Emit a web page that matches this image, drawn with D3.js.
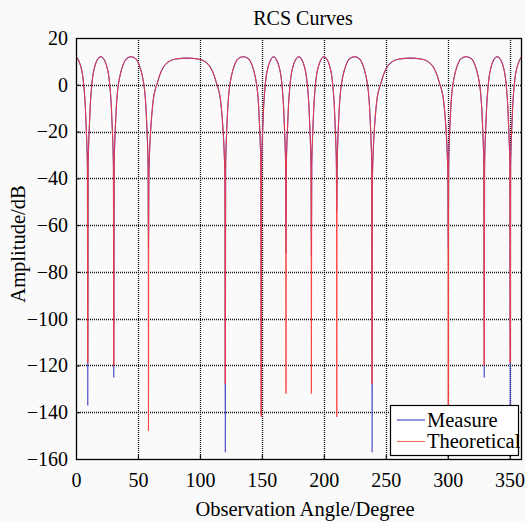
<!DOCTYPE html>
<html>
<head>
<meta charset="utf-8">
<script src="https://cdn.jsdelivr.net/npm/d3@7"></script>
<style>
  html, body { margin: 0; padding: 0; background: #fafafa; }
  svg { display: block; }
  text { font-family: "Liberation Serif", "Times New Roman", serif; fill: #000; }
</style>
</head>
<body>
<script>
// ---------- data ----------
const title = "RCS Curves";
const xLabel = "Observation Angle/Degree";
const yLabel = "Amplitude/dB";
const seriesNames = ["Measure", "Theoretical"];
const xTicks = [0, 50, 100, 150, 200, 250, 300, 350];
const yTicks = [-160, -140, -120, -100, -80, -60, -40, -20, 0, 20];

const angles = [
  0,2,4,5.5,6.5,7.5,8.3,8.8,9.2,9.5,
  9.8,10.2,10.7,11.5,12.5,13.5,15,17,20,23,25,26.5,27.5,28.5,29.3,29.8,30.2,30.5,
  30.8,31.2,31.7,32.5,33.5,34.5,36,38,40.5,44.5,48.5,51,53,54.5,55.5,56.5,57.3,57.8,58.2,58.5,
  58.8,59.3,60,61,62.5,64,65.5,67.5,70.5,74.5,80.5,89.5,98.5,104.5,108.5,111.5,113.5,115,116.5,118,119,119.7,120.2,120.5,
  120.8,121.2,121.7,122.5,123.5,124.5,126,128,130.5,135,139.5,142,144,145.5,146.5,147.5,148.3,148.8,149.2,149.5,
  149.8,150.2,150.7,151.5,152.5,153.5,155,157,159.5,162,164,165.5,166.5,167.5,168.3,168.8,169.2,169.5,
  169.8,170.2,170.7,171.5,172.5,173.5,175,177,180,182.5,184.5,186,187,188,188.8,189.3,189.7,190,
  190.3,190.7,191.2,192,193,194,195.5,197.5,200,203,205,206.5,207.5,208.5,209.3,209.8,210.2,210.5,
  210.8,211.2,211.7,212.5,213.5,214.5,216,218,220.5,225,229,231.5,233.5,235,236,237,237.8,238.3,238.7,239,
  239.3,239.8,240.5,241.5,243,244.5,246,248,251,255,261,270,278.5,284.5,288.5,291.5,293.5,295,296.5,298,299,299.7,300.2,300.5,
  300.8,301.2,301.7,302.5,303.5,304.5,306,308,310.5,315,319.5,322,324,325.5,326.5,327.5,328.3,328.8,329.2,329.5,
  329.8,330.2,330.7,331.5,332.5,333.5,335,337,340,343,345,346.5,347.5,348.5,349.3,349.8,350.2,350.5,
  350.8,351.2,351.7,352.5,353.5,354.5,356,358,360
];

const theoretical = [
  12,10.5,7.5,3.5,-1.5,-9,-19,-26,-35,-119,
  -35,-26,-19,-9,-1.5,3.5,7.5,10.5,12,10.5,7.5,3.5,-1.5,-9,-19,-26,-35,-120,
  -35,-26,-19,-10,-3,1,5,8.5,11,12,11,8.5,5,1,-3,-10,-19,-26,-35,-148,
  -40,-30,-22,-14,-6,-2,0.5,4,7.5,9.8,11,11.4,11,9.8,7.5,4,0.5,-2,-6,-14,-22,-30,-40,-128,
  -35,-26,-19,-10,-3,1,5,8.5,11,12,11,8.5,5,1,-3,-10,-19,-26,-35,-142,
  -35,-26,-19,-9,-1.5,3.5,7.5,10.5,12,10.5,7.5,3.5,-1.5,-9,-19,-26,-35,-132,
  -35,-26,-19,-9,-1.5,3.5,7.5,10.5,12,10.5,7.5,3.5,-1.5,-9,-19,-26,-35,-132,
  -35,-26,-19,-9,-1.5,3.5,7.5,10.5,12,10.5,7.5,3.5,-1.5,-9,-19,-26,-35,-142,
  -35,-26,-19,-10,-3,1,5,8.5,11,12,11,8.5,5,1,-3,-10,-19,-26,-35,-128,
  -40,-30,-22,-14,-6,-2,0.5,4,7.5,9.8,11,11.4,11,9.8,7.5,4,0.5,-2,-6,-14,-22,-30,-40,-148,
  -35,-26,-19,-10,-3,1,5,8.5,11,12,11,8.5,5,1,-3,-10,-19,-26,-35,-120,
  -35,-26,-19,-9,-1.5,3.5,7.5,10.5,12,10.5,7.5,3.5,-1.5,-9,-19,-26,-35,-119,
  -35,-26,-19,-9,-1.5,3.5,7.5,10.5,12
];

const measured = [
  12,10.5,7.5,3.5,-1.5,-9,-19,-26,-35,-137,
  -35,-26,-19,-9,-1.5,3.5,7.5,10.5,12,10.5,7.5,3.5,-1.5,-9,-19,-26,-35,-125,
  -35,-26,-19,-10,-3,1,5,8.5,11,12,11,8.5,5,1,-3,-10,-19,-26,-35,-70,
  -40,-30,-22,-14,-6,-2,0.5,4,7.5,9.8,11,11.4,11,9.8,7.5,4,0.5,-2,-6,-14,-22,-30,-40,-157,
  -35,-26,-19,-10,-3,1,5,8.5,11,12,11,8.5,5,1,-3,-10,-19,-26,-35,-141,
  -35,-26,-19,-9,-1.5,3.5,7.5,10.5,12,10.5,7.5,3.5,-1.5,-9,-19,-26,-35,-72,
  -35,-26,-19,-9,-1.5,3.5,7.5,10.5,12,10.5,7.5,3.5,-1.5,-9,-19,-26,-35,-73,
  -35,-26,-19,-9,-1.5,3.5,7.5,10.5,12,10.5,7.5,3.5,-1.5,-9,-19,-26,-35,-54,
  -35,-26,-19,-10,-3,1,5,8.5,11,12,11,8.5,5,1,-3,-10,-19,-26,-35,-157,
  -40,-30,-22,-14,-6,-2,0.5,4,7.5,9.8,11,11.4,11,9.8,7.5,4,0.5,-2,-6,-14,-22,-30,-40,-70,
  -35,-26,-19,-10,-3,1,5,8.5,11,12,11,8.5,5,1,-3,-10,-19,-26,-35,-125,
  -35,-26,-19,-9,-1.5,3.5,7.5,10.5,12,10.5,7.5,3.5,-1.5,-9,-19,-26,-35,-137,
  -35,-26,-19,-9,-1.5,3.5,7.5,10.5,12
];

// ---------- layout ----------
const W = 525, H = 522;
const m = { left: 76, right: 3, top: 38, bottom: 63 };
const iw = W - m.left - m.right, ih = H - m.top - m.bottom;

const svg = d3.select("body").append("svg").attr("width", W).attr("height", H);
svg.append("rect").attr("width", W).attr("height", H).attr("fill", "#fafafa");

const x = d3.scaleLinear().domain([0, 360]).range([m.left, m.left + iw]);
const y = d3.scaleLinear().domain([-160, 20]).range([m.top + ih, m.top]);

// grid
const grid = svg.append("g");
grid.selectAll("line.v").data(xTicks.filter(t => t > 0)).join("line")
  .attr("x1", d => Math.round(x(d)) + 0.5).attr("x2", d => Math.round(x(d)) + 0.5)
  .attr("y1", m.top).attr("y2", m.top + ih)
  .attr("stroke", "#111").attr("stroke-width", 1.3).attr("stroke-dasharray", "1,1");
grid.selectAll("line.h").data(yTicks.filter(t => t > -160 && t < 20)).join("line")
  .attr("y1", d => Math.round(y(d)) + 0.5).attr("y2", d => Math.round(y(d)) + 0.5)
  .attr("x1", m.left).attr("x2", m.left + iw)
  .attr("stroke", "#111").attr("stroke-width", 1.3).attr("stroke-dasharray", "1,1");

// clip
svg.append("clipPath").attr("id", "clip").append("rect")
  .attr("x", m.left).attr("y", m.top).attr("width", iw).attr("height", ih);

const line = d3.line().x(d => x(d[0])).y(d => y(d[1])).curve(d3.curveMonotoneX);
const plot = svg.append("g").attr("clip-path", "url(#clip)");
plot.append("path").datum(angles.map((a, i) => [a, measured[i]]))
  .attr("d", line).attr("fill", "none").attr("stroke", "#3b3bc4").attr("stroke-width", 1.1);
plot.append("path").datum(angles.map((a, i) => [a, theoretical[i]]))
  .attr("d", line).attr("fill", "none").attr("stroke", "#ff3a3a").attr("stroke-width", 1).attr("opacity", 0.9);

// axes
const xAxis = d3.axisBottom(x).tickValues(xTicks).tickSize(-4).tickPadding(10).tickFormat(d3.format("d"));
const yAxis = d3.axisLeft(y).tickValues(yTicks).tickSize(-4).tickPadding(8).tickFormat(d3.format("d"));
const gx = svg.append("g").attr("transform", `translate(0,${m.top + ih})`).call(xAxis);
const gy = svg.append("g").attr("transform", `translate(${m.left},0)`).call(yAxis);
[gx, gy].forEach(g => {
  g.select(".domain").remove();
  g.selectAll(".tick line").attr("stroke", "#000");
  g.selectAll(".tick text").attr("font-size", 20).attr("font-family", "Liberation Serif, serif").attr("fill", "#000");
});
gx.selectAll(".tick text").attr("dy", "0.92em");

// frame
svg.append("rect").attr("x", m.left + 0.5).attr("y", m.top + 0.5).attr("width", iw - 1).attr("height", ih)
  .attr("fill", "none").attr("stroke", "#000").attr("stroke-width", 1.3);

// title & labels
svg.append("text").attr("x", 303).attr("y", 25).attr("text-anchor", "middle").attr("font-size", 20).text(title);
svg.append("text").attr("x", 305).attr("y", 516).attr("text-anchor", "middle").attr("font-size", 20.5).text(xLabel);
svg.append("text").attr("transform", "translate(25,244) rotate(-90)").attr("text-anchor", "middle").attr("font-size", 20.5).text(yLabel);

// legend
const lg = svg.append("g");
lg.append("rect").attr("x", 390.5).attr("y", 405.5).attr("width", 128).attr("height", 50)
  .attr("fill", "#fff").attr("stroke", "#000").attr("stroke-width", 1.2);
const legendColors = ["#3b3bc4", "#ff6a6a"];
seriesNames.forEach((n, i) => {
  const ly = 420 + i * 21.5;
  lg.append("line").attr("x1", 397).attr("x2", 425).attr("y1", ly).attr("y2", ly)
    .attr("stroke", legendColors[i]).attr("stroke-width", 1.1);
  lg.append("text").attr("x", 427).attr("y", ly + 6.5).attr("font-size", 20.5).text(n);
});
</script>
</body>
</html>
